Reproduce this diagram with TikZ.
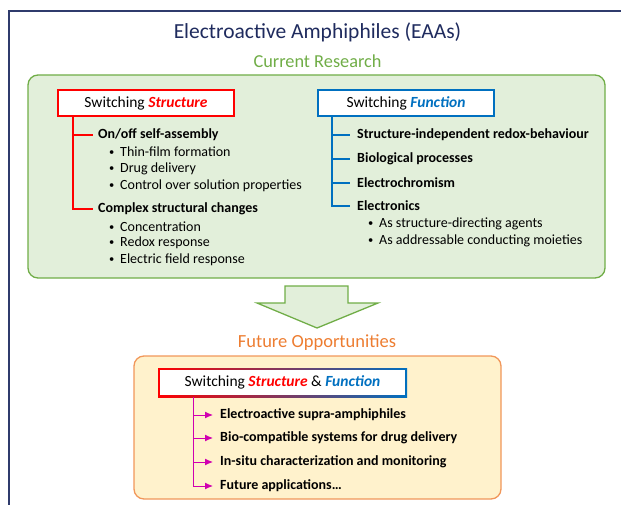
\documentclass[tikz,border=0pt]{standalone}
\usepackage{fontspec}
\usepackage{graphicx}
\setmainfont{Carlito}
\usetikzlibrary{arrows.meta,positioning}
\definecolor{eaanavy}{HTML}{2F3B6C}
\definecolor{eaatitle}{HTML}{1F2B5E}
\definecolor{eaagreen}{HTML}{70AD47}
\definecolor{eaagreenbg}{HTML}{E2EFDA}
\definecolor{eaared}{HTML}{FF0000}
\definecolor{eaablue}{HTML}{0070C0}
\definecolor{eaaorange}{HTML}{ED7D31}
\definecolor{eaaorangebg}{HTML}{FFF2CC}
\definecolor{eaamagenta}{HTML}{D000B0}
\newcommand{\eaabul}{\makebox[12pt][l]{\hspace{1pt}\raisebox{0.9pt}{\scalebox{0.75}{\textbullet}}}}

\begin{document}
\begin{tikzpicture}[
    x=1pt, y=-1pt,
    nosep/.style={inner sep=0},
    item/.style={nosep, anchor=west, font=\fontsize{14}{16}\selectfont},
    heading/.style={item, font=\bfseries\fontsize{14}{16}\selectfont},
    swbox/.style={draw, line width=2pt, fill=white, minimum width=176pt, minimum height=26pt,
        font=\fontsize{15.5}{18}\selectfont},
    tree/.style={line width=1.3pt},
    panel/.style={line width=1.3pt, rounded corners=10pt}]
\useasboundingbox (0,0) rectangle (621,505);

% frame and titles
\draw[eaanavy, line width=2pt] (9,505) -- (9,11) -- (621,11);
\node[nosep, text=eaatitle, font=\fontsize{21.5}{25}\selectfont] (title) at (317.5,32) {Electroactive Amphiphiles (EAAs)};
\node[nosep, text=eaagreen, font=\fontsize{18.3}{21}\selectfont] (current) at (317.5,61) {Current Research};

% current research
\draw[panel, draw=eaagreen, fill=eaagreenbg] (28,75) rectangle (605,278);

\node[swbox, draw=eaared] (sw-str) at (146,103) {Switching \textcolor{eaared}{\textbf{\textit{Structure}}}};
\node[swbox, draw=eaablue] (sw-fun) at (406,103) {Switching \textcolor{eaablue}{\textbf{\textit{Function}}}};

\node[heading] (onoff) at (98,135) {On/off self-assembly};
\node[heading] (complex) at (98,209) {Complex structural changes};
\foreach \y/\t in {152/Thin-film formation, 169/Drug delivery, 186/Control over solution properties,
    227/Concentration, 243/Redox response, 260/Electric field response}
  \node[item] at (108,\y) {\eaabul\t};

\draw[tree, eaared] ([xshift=16pt]sw-str.south west) |- ([xshift=-5pt]onoff.west);
\draw[tree, eaared] ([xshift=16pt]sw-str.south west) |- ([xshift=-5pt]complex.west);

\node[heading] (redox) at (357,135) {Structure-independent redox-behaviour};
\node[heading] (bio) at (357,159) {Biological processes};
\node[heading] (chrom) at (357,183) {Electrochromism};
\node[heading] (elec) at (357,206) {Electronics};
\foreach \y/\t in {224/As structure-directing agents, 241/As addressable conducting moieties}
  \node[item] at (367,\y) {\eaabul\t};

\foreach \n in {redox, bio, chrom, elec}
  \draw[tree, eaablue] ([xshift=15pt]sw-fun.south west) |- ([xshift=-7pt]\n.west);

% arrow down
\draw[line width=1.3pt, draw=eaagreen, fill=eaagreenbg]
  (285,286) -- (348,286) -- (348,303) -- (378,303) -- (317,328) -- (257,303) -- (285,303) -- cycle;

% future opportunities
\node[nosep, text=eaaorange, font=\fontsize{18.5}{21}\selectfont] (future) at (317,343) {Future Opportunities};
\draw[panel, draw=eaaorange!80, fill=eaaorangebg] (134,356) rectangle (501,499);

\shade[left color=eaared, right color=eaablue] (158,368) rectangle (407,397);
\node[nosep, fill=white, minimum width=245pt, minimum height=25pt, font=\fontsize{15.5}{18}\selectfont] (sw-both) at (282.5,382.5)
  {Switching \textcolor{eaared}{\textbf{\textit{Structure}}} \& \textcolor{eaablue}{\textbf{\textit{Function}}}};

\node[heading] (supra) at (220,415) {Electroactive supra-amphiphiles};
\node[heading] (drug) at (220,438) {Bio-compatible systems for drug delivery};
\node[heading] (insitu) at (220,462) {In-situ characterization and monitoring};
\node[heading] (appl) at (220,486) {Future applications\dots};

\foreach \n in {supra, drug, insitu, appl}
  \draw[line width=1pt, eaamagenta, -{Latex[length=8pt,width=7pt]}] ([xshift=34pt,yshift=-2pt]sw-both.south west) |- ([xshift=-7pt]\n.west);

\end{tikzpicture}
\end{document}
